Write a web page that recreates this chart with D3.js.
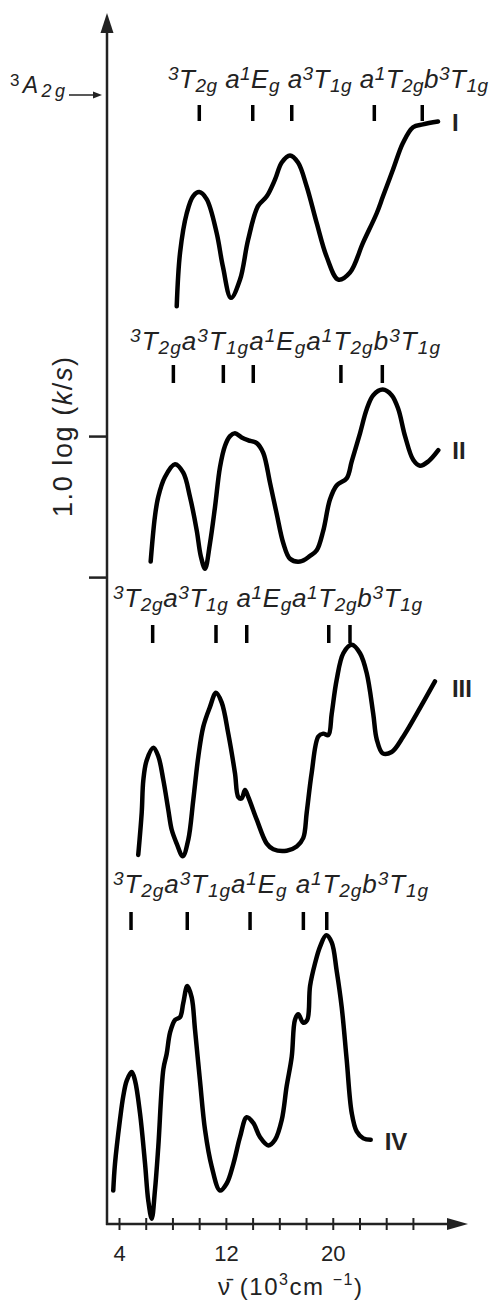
<!DOCTYPE html>
<html><head><meta charset="utf-8">
<script src="https://cdn.jsdelivr.net/npm/d3@7"></script>
<style>
html,body{margin:0;padding:0;background:#fff;}
svg{display:block;font-family:"Liberation Sans",Arial,sans-serif;}
</style></head><body>
<svg id="c" width="489" height="1301"></svg>
<script>
// ---- data: wavenumber (10^3 cm^-1) vs log(k/s) (arbitrary vertical offsets per spectrum)
const specI_x = [8.32,8.57,9.07,9.54,10.01,10.56,11.31,11.78,12.38,13.06,13.66,14.40,15.06,15.68,16.18,16.80,17.40,18.05,18.80,19.55,20.41,21.29,22.26,23.29,23.76,24.51,25.26,26.01,26.75,27.88];
const specI_y = [6.50,6.88,7.16,7.28,7.31,7.26,7.02,6.78,6.56,6.69,6.97,7.21,7.28,7.40,7.52,7.57,7.52,7.35,7.09,6.85,6.69,6.74,6.95,7.16,7.28,7.47,7.66,7.77,7.79,7.81];
const specII_x = [6.37,6.69,6.94,7.44,8.19,8.81,9.31,9.82,10.12,10.44,10.81,11.19,11.56,11.93,12.31,12.68,13.18,13.68,14.31,14.80,15.30,15.80,16.30,16.80,17.55,18.30,18.80,19.29,19.79,20.29,21.04,21.42,22.04,22.54,23.03,23.74,24.41,24.91,25.41,26.03,26.53,27.15,27.90];
const specII_y = [4.69,5.01,5.15,5.29,5.38,5.32,5.15,4.91,4.73,4.64,4.82,5.08,5.36,5.51,5.58,5.60,5.57,5.55,5.53,5.46,5.25,5.03,4.82,4.71,4.69,4.73,4.77,4.91,5.13,5.23,5.28,5.40,5.60,5.77,5.87,5.91,5.87,5.77,5.58,5.41,5.37,5.40,5.48];
const specIII_x = [5.44,5.70,5.82,6.07,6.57,6.94,7.32,7.69,7.94,8.32,8.77,9.19,9.56,9.94,10.31,10.81,11.26,11.69,12.18,12.68,12.93,13.18,13.43,13.68,14.31,15.06,15.55,16.55,17.30,17.79,18.05,18.42,18.92,19.29,19.67,19.92,20.29,20.79,21.42,22.04,22.54,23.03,23.29,23.74,24.41,25.28,26.28,27.65];
const specIII_y = [2.61,2.91,3.14,3.28,3.37,3.31,3.14,2.93,2.79,2.69,2.60,2.72,3.00,3.31,3.52,3.66,3.76,3.69,3.47,3.19,3.02,3.01,3.07,3.02,2.86,2.69,2.65,2.64,2.67,2.73,2.91,3.19,3.45,3.47,3.46,3.61,3.85,4.04,4.10,4.04,3.90,3.61,3.43,3.33,3.34,3.45,3.61,3.84];
const specIV_x = [3.57,3.70,4.07,4.32,4.58,4.95,5.20,5.57,5.95,6.19,6.45,6.69,6.94,7.32,7.57,7.82,8.19,8.57,8.81,9.11,9.44,9.69,10.06,10.44,10.94,11.56,12.06,12.56,13.06,13.56,14.05,14.55,15.18,15.68,16.18,16.55,16.93,17.17,17.42,17.79,18.09,18.30,18.67,19.05,19.51,19.92,20.29,20.67,21.04,21.42,21.79,22.29,22.84];
const specIV_y = [0.23,0.42,0.73,0.90,1.01,1.07,1.01,0.78,0.42,0.16,0.03,0.23,0.54,1.09,1.20,1.35,1.44,1.46,1.56,1.68,1.60,1.37,1.01,0.66,0.40,0.23,0.28,0.42,0.61,0.75,0.71,0.61,0.55,0.59,0.73,0.97,1.18,1.44,1.48,1.42,1.44,1.68,1.84,1.96,2.04,1.99,1.79,1.53,1.16,0.78,0.65,0.60,0.59];

// transition positions (10^3 cm^-1)
const bandsI = [10.01,14.01,16.93,23.11,26.70];
const bandsII = [8.07,11.81,14.05,20.61,23.71];
const bandsIII = [6.52,11.26,13.56,19.70,21.29];
const bandsIV = [4.90,9.11,13.81,17.80,19.55];

// assignment labels (^{..} superscript, _{..} subscript)
const assignI = "^{3}T_{2g} a^{1}E_{g} a^{3}T_{1g} a^{1}T_{2g}b^{3}T_{1g}";
const assignII = "^{3}T_{2g}a^{3}T_{1g}a^{1}E_{g}a^{1}T_{2g}b^{3}T_{1g}";
const assignIII = "^{3}T_{2g}a^{3}T_{1g} a^{1}E_{g}a^{1}T_{2g}b^{3}T_{1g}";
const assignIV = "^{3}T_{2g}a^{3}T_{1g}a^{1}E_{g} a^{1}T_{2g}b^{3}T_{1g}";
const spectrumNames = ["I","II","III","IV"];

const xTickValues = [4,6,8,10,12,14,16,18,20,22,24,26];
const xTickLabels = [4,12,20];
const yTickValues = [4.58,5.58];

// ---- layout (pixels)
const layout = [
  {lx:168, ly:88,  w:320, m0:105, m1:121, nx:14, ny:9},
  {lx:130, ly:350, w:310, m0:365, m1:383, nx:14, ny:9},
  {lx:113, ly:607, w:309, m0:625, m1:643, nx:17, ny:16},
  {lx:113, ly:893, w:315, m0:912, m1:930, nx:14, ny:10}
];

const svg = d3.select("#c");
const x = d3.scaleLinear().domain([4,20]).range([119,332.76]);
const y = d3.scaleLinear().domain([0,8.58]).range([1223,13]);
const FONT = '"Liberation Sans",Arial,sans-serif';

// axes
const x0 = 107, yAx = 1224;
svg.append("line").attr("x1",x0).attr("x2",x0).attr("y1",yAx+1).attr("y2",30)
  .attr("stroke","#222").attr("stroke-width",2.5);
svg.append("path").attr("d",`M${x0-6.5},33 L${x0},13 L${x0+6.5},33 Z`).attr("fill","#222");
svg.append("line").attr("x1",x0-1).attr("x2",450).attr("y1",yAx).attr("y2",yAx)
  .attr("stroke","#222").attr("stroke-width",2.5);
svg.append("path").attr("d",`M447,${yAx-6} L468,${yAx} L447,${yAx+6} Z`).attr("fill","#222");

const xa = svg.append("g").attr("transform",`translate(0,${yAx})`)
  .call(d3.axisBottom(x).tickValues(xTickValues).tickSize(6).tickPadding(10)
    .tickFormat(d => xTickLabels.includes(d) ? d : ""));
xa.select(".domain").remove();
xa.selectAll(".tick line").attr("y1",-6).attr("y2",6).attr("stroke","#222").attr("stroke-width",2);
xa.selectAll(".tick text").attr("font-family",FONT).attr("font-size",22).attr("fill","#222").attr("dy","0.95em");

const ya = svg.append("g").attr("transform",`translate(${x0},0)`)
  .call(d3.axisLeft(y).tickValues(yTickValues).tickSize(18).tickFormat(""));
ya.select(".domain").remove();
ya.selectAll(".tick line").attr("stroke","#222").attr("stroke-width",2.5);

// y label
const yl = svg.append("text").attr("transform","translate(72,437) rotate(-90)")
  .attr("text-anchor","middle").attr("font-family",FONT).attr("font-size",27).attr("fill","#222")
  .attr("textLength",160).attr("lengthAdjust","spacing");
yl.append("tspan").text("1.0 log (");
yl.append("tspan").text("k").attr("font-style","italic");
yl.append("tspan").text("/");
yl.append("tspan").text("s").attr("font-style","italic");
yl.append("tspan").text(")");

// x label
const xl = svg.append("text").attr("x",290).attr("y",1295).attr("text-anchor","middle")
  .attr("font-family",FONT).attr("font-size",24).attr("fill","#222")
  .attr("textLength",144).attr("lengthAdjust","spacing");
xl.append("tspan").text("\u03BD\u0304 (10");
xl.append("tspan").text("3").attr("font-size",16).attr("dy",-10);
xl.append("tspan").text("cm ").attr("dy",10);
xl.append("tspan").text("\u22121").attr("font-size",16).attr("dy",-10);
xl.append("tspan").text(")").attr("dy",10);

// 3A2g arrow label
const al = svg.append("text").attr("x",10).attr("y",93).attr("font-family",FONT)
  .attr("font-size",23).attr("fill","#222").attr("textLength",55).attr("lengthAdjust","spacing");
al.append("tspan").text("3").attr("font-size",17).attr("dy",-7);
al.append("tspan").text("A").attr("font-style","italic").attr("dy",7);
al.append("tspan").text("2g").attr("font-style","italic").attr("font-size",18).attr("dy",4);
svg.append("line").attr("x1",69).attr("x2",96).attr("y1",95).attr("y2",95).attr("stroke","#222").attr("stroke-width",1.5);
svg.append("path").attr("d","M93,91.5 L102,95 L93,98.5 Z").attr("fill","#222");

// spectra
const specs = [
  {xs:specI_x, ys:specI_y, bands:bandsI, lab:assignI},
  {xs:specII_x, ys:specII_y, bands:bandsII, lab:assignII},
  {xs:specIII_x, ys:specIII_y, bands:bandsIII, lab:assignIII},
  {xs:specIV_x, ys:specIV_y, bands:bandsIV, lab:assignIV}
];
const line = d3.line().x(d=>x(d[0])).y(d=>y(d[1])).curve(d3.curveCatmullRom.alpha(0.5));

function addLabel(str, lx, ly, w){
  const t = svg.append("text").attr("x",lx).attr("y",ly).attr("font-family",FONT)
    .attr("font-size",26).attr("font-style","italic").attr("fill","#222")
    .attr("textLength",w).attr("lengthAdjust","spacing")
    .style("white-space","pre");
  const re = /\^\{([^}]*)\}|_\{([^}]*)\}|([^^_]+)/g;
  let m, cur = 0;
  while((m = re.exec(str))){
    let target, txt, fs;
    if(m[1]!==undefined){target=-8; txt=m[1]; fs=19;}
    else if(m[2]!==undefined){target=4; txt=m[2]; fs=19;}
    else {target=0; txt=m[3]; fs=26;}
    t.append("tspan").text(txt).attr("font-size",fs).attr("dy",target-cur);
    cur = target;
  }
}

specs.forEach((s,i)=>{
  const L = layout[i];
  const pts = s.xs.map((v,k)=>[v,s.ys[k]]);
  svg.append("path").attr("d",line(pts)).attr("fill","none").attr("stroke","#000")
    .attr("stroke-width",4.5).attr("stroke-linecap","round").attr("stroke-linejoin","round");
  svg.selectAll(null).data(s.bands).enter().append("line")
    .attr("x1",d=>x(d)).attr("x2",d=>x(d)).attr("y1",L.m0).attr("y2",L.m1)
    .attr("stroke","#000").attr("stroke-width",3.5);
  addLabel(s.lab, L.lx, L.ly, L.w);
  const last = pts[pts.length-1];
  svg.append("text").attr("x",x(last[0])+L.nx).attr("y",y(last[1])+L.ny)
    .attr("font-family",FONT).attr("font-weight","bold").attr("font-size",24).attr("fill","#222")
    .text(spectrumNames[i]);
});
</script>
</body></html>
